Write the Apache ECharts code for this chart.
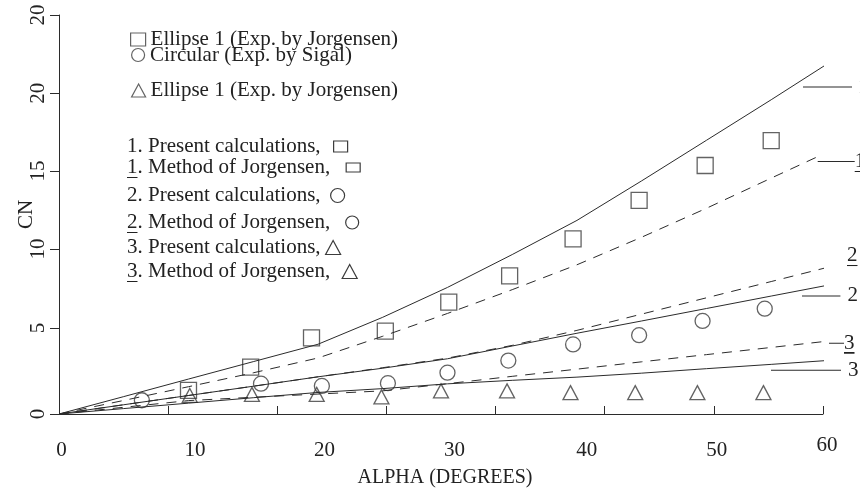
<!DOCTYPE html>
<html>
<head>
<meta charset="utf-8">
<script src="https://cdn.jsdelivr.net/npm/echarts@6/dist/echarts.min.js"></script>
<style>
  html, body { margin: 0; padding: 0; background: #ffffff; }
  #chart { width: 860px; height: 493px; }
</style>
</head>
<body>
<div id="chart"></div>
<script>
// ---- Measured normal-force coefficient (angle of attack in degrees, CN) ----
const squareAlpha = [10, 14.8, 19.5, 25.2, 30.1, 34.8, 39.7, 44.8, 49.9, 55.0];
const squareCN    = [1.48, 2.94, 4.77, 5.19, 7.01, 8.65, 10.97, 13.39, 15.57, 17.13];

const circleAlpha = [6.4, 15.6, 20.3, 25.4, 30.0, 34.7, 39.7, 44.8, 49.7, 54.5];
const circleCN    = [0.86, 1.90, 1.76, 1.93, 2.59, 3.35, 4.36, 4.94, 5.83, 6.60];

const triangleAlpha = [10.1, 14.9, 19.9, 24.9, 29.5, 34.6, 39.5, 44.5, 49.3, 54.4];
const triangleCN    = [1.16, 1.23, 1.23, 1.07, 1.45, 1.45, 1.34, 1.34, 1.34, 1.34];

// ---- Computed curves ----
const present1Alpha = [0, 5, 10, 15, 20, 25, 30, 35, 40, 45, 50, 55, 59.8];
const present1CN    = [0, 1.09, 2.19, 3.28, 4.37, 6.06, 7.93, 9.99, 12.13, 14.61, 17.15, 19.69, 22.18];

const jorgensen1Alpha = [0, 5, 10, 15, 20, 25, 30, 35, 40, 45, 50, 55, 58.9];
const jorgensen1CN    = [0, 0.85, 1.71, 2.58, 3.51, 4.87, 6.30, 7.79, 9.35, 11.08, 12.89, 14.78, 16.24];

const present2Alpha = [0, 5, 10, 15, 20, 25, 30, 35, 40, 45, 50, 55, 59.5];
const present2CN    = [0, 0.58, 1.16, 1.74, 2.33, 2.87, 3.46, 4.26, 5.06, 5.83, 6.61, 7.39, 8.09];

const jorgensen2Alpha = [0, 5, 10, 15, 20, 25, 30, 35, 40, 45, 50, 55, 59.8];
const jorgensen2CN    = [0, 0.58, 1.16, 1.74, 2.33, 2.90, 3.50, 4.30, 5.24, 6.26, 7.28, 8.30, 9.28];

const present3Alpha = [0, 5, 10, 15, 20, 25, 30, 35, 40, 45, 50, 55, 59.3];
const present3CN    = [0, 0.34, 0.68, 1.02, 1.35, 1.59, 1.89, 2.11, 2.31, 2.56, 2.84, 3.11, 3.35];

const jorgensen3Alpha = [0, 5, 10, 15, 20, 25, 30, 35, 40, 45, 50, 55, 59.3];
const jorgensen3CN    = [0, 0.42, 0.84, 1.05, 1.25, 1.45, 1.90, 2.36, 2.81, 3.27, 3.72, 4.17, 4.56];

// ---- Axis tick labels ----
const xTickLabels = ['0', '10', '20', '30', '40', '50', '60'];
const yTickLabels = ['0', '5', '10', '15', '20', '20'];

// ---- Series names ----
const expNames = [
  'Ellipse 1 (Exp. by Jorgensen)',
  'Circular (Exp. by Sigal)',
  'Ellipse 1 (Exp. by Jorgensen)\u200b'
];
const calcNames = [
  '1. Present calculations,',
  '1. Method of Jorgensen,',
  '2. Present calculations,',
  '2. Method of Jorgensen,',
  '3. Present calculations,',
  '3. Method of Jorgensen,'
];
const curveNumbers = ['1', '1', '2', '2', '3', '3'];

// ---------------------------------------------------------------------------
const FONT = 'Liberation Serif';
const INK = '#222222';
const LINE = '#2b2b2b';
const hollow = { color: 'rgba(0,0,0,0)', borderColor: '#3c3c3c', borderWidth: 1.3 };

// thin rule along the bottom of a text box: marks the Jorgensen-method curves
const underlineFill = new echarts.graphic.LinearGradient(0, 0, 0, 1, [
  { offset: 0, color: 'rgba(0,0,0,0)' },
  { offset: 0.94, color: 'rgba(0,0,0,0)' },
  { offset: 0.94, color: INK },
  { offset: 1, color: INK }
]);
const digitStyle = { fontFamily: FONT, fontSize: 21, color: INK };
const underDigitStyle = Object.assign({}, digitStyle, { lineHeight: 24, backgroundColor: underlineFill });

const pairs = (xs, ys) => xs.map((x, i) => [x, ys[i]]);

// axis geometry: ticks/labels positioned along the axes
const X_MAX = 59;
const xTickAt = Array.from({ length: 8 }, (_, k) => k * X_MAX / 7);
const xLabelAt = [0.2, 10.5, 20.5, 30.55, 40.75, 50.8, X_MAX];
const yTickAt = [0, 5.39, 10.34, 15.22, 20.09, 25];

const labelFor = (at, labels) => (v) => {
  const i = at.findIndex(t => Math.abs(t - v) < 1e-6);
  return i < 0 ? '' : labels[i];
};

// short leader dash + curve number drawn at the end of each curve
function endTag(num, underlined, dashWidth, gap, offset) {
  const numToken = underlined ? '{u|' + num + '}' : '{t|' + num + '}';
  return {
    show: true,
    distance: 0,
    offset: offset,
    formatter: (dashWidth > 0 ? '{ln|}' : '') + numToken,
    rich: {
      ln: { width: dashWidth, height: 1, backgroundColor: LINE },
      t: Object.assign({ padding: [0, 0, 0, gap] }, digitStyle),
      u: Object.assign({ padding: [0, 0, 0, 0] }, underDigitStyle)
    }
  };
}

function calcSeries(name, xs, ys, dashed, tag) {
  return {
    type: 'line',
    name: name,
    data: pairs(xs, ys),
    symbol: 'none',
    showSymbol: false,
    clip: false,
    silent: true,
    animation: false,
    lineStyle: { color: LINE, width: 1, type: dashed ? [10, 8] : 'solid' },
    endLabel: tag
  };
}

function expSeries(name, xs, ys, symbol, size) {
  return {
    type: 'scatter',
    name: name,
    data: pairs(xs, ys),
    symbol: symbol,
    symbolSize: size,
    silent: true,
    animation: false,
    itemStyle: hollow
  };
}

function legendRow(name, icon, left, top, w, h, align, gap, underlined) {
  return {
    data: [name],
    icon: icon,
    left: left,
    top: top,
    itemWidth: w,
    itemHeight: h,
    align: align,
    padding: 0,
    selectedMode: false,
    formatter: (n) => underlined
      ? '{u|' + n.charAt(0) + '}{r|' + n.slice(1) + '}'
      : '{r|' + n + '}',
    textStyle: {
      fontFamily: FONT, fontSize: 21, color: INK,
      padding: [0, gap, 0, 0],
      rich: { u: underDigitStyle, r: digitStyle }
    },
    itemStyle: { color: 'rgba(0,0,0,0)', borderColor: '#3c3c3c', borderWidth: 1.2 }
  };
}

const option = {
  backgroundColor: '#ffffff',
  animation: false,
  grid: { left: 59, top: 15, width: 764, height: 401.5, containLabel: false },
  legend: [
    legendRow(expNames[0], 'rect', 130, 29, 15, 13, 'left', 0, false),
    legendRow(expNames[1], 'circle', 131, 44.5, 14, 13, 'left', 0, false),
    legendRow(expNames[2], 'triangle', 131, 80, 14, 13, 'left', 0, false),
    legendRow(calcNames[0], 'rect', 127, 136, 14, 11, 'right', 8, false),
    legendRow(calcNames[1], 'rect', 127, 157, 14, 9, 'right', 11, true),
    legendRow(calcNames[2], 'circle', 127, 185, 14, 14, 'right', 5, false),
    legendRow(calcNames[3], 'circle', 127, 212, 14, 13, 'right', 10, true),
    legendRow(calcNames[4], 'triangle', 127, 237, 15, 14, 'right', 0, false),
    legendRow(calcNames[5], 'triangle', 127, 261, 15, 14, 'right', 7, true)
  ],
  xAxis: {
    type: 'value',
    min: 0,
    max: X_MAX,
    axisLine: { show: true, lineStyle: { color: LINE, width: 1 } },
    axisTick: { show: true, inside: true, length: 8, customValues: xTickAt, lineStyle: { color: LINE } },
    axisLabel: {
      customValues: xLabelAt,
      margin: 26,
      alignMinLabel: 'center',
      alignMaxLabel: 'center',
      fontFamily: FONT,
      fontSize: 21,
      color: INK,
      formatter: (v) => {
        const s = labelFor(xLabelAt, xTickLabels)(v);
        return v === X_MAX ? '{last|' + s + '}' : s;
      },
      rich: { last: { fontFamily: FONT, fontSize: 21, color: INK, padding: [0, 0, 0, 8], lineHeight: 11 } }
    },
    splitLine: { show: false },
    name: 'ALPHA (DEGREES)',
    nameLocation: 'middle',
    nameGap: 54,
    nameMoveOverlap: false,
    nameTextStyle: { fontFamily: FONT, fontSize: 20, color: INK, padding: [0, 0, 0, 8] }
  },
  yAxis: {
    type: 'value',
    min: 0,
    max: 25,
    axisLine: { show: true, lineStyle: { color: LINE, width: 1 } },
    axisTick: { show: true, inside: false, length: 9, customValues: yTickAt, lineStyle: { color: LINE } },
    axisLabel: {
      customValues: yTickAt,
      rotate: 90,
      margin: 10,
      fontFamily: FONT,
      fontSize: 21,
      color: INK,
      formatter: labelFor(yTickAt, yTickLabels)
    },
    splitLine: { show: false },
    name: 'CN',
    nameLocation: 'middle',
    nameRotate: 90,
    nameGap: 22,
    nameMoveOverlap: false,
    nameTextStyle: { fontFamily: FONT, fontSize: 21, color: INK }
  },
  series: [
    expSeries(expNames[0], squareAlpha, squareCN, 'rect', 16),
    expSeries(expNames[1], circleAlpha, circleCN, 'circle', 15),
    expSeries(expNames[2], triangleAlpha, triangleCN, 'triangle', [15, 14]),
    calcSeries(calcNames[0], present1Alpha, present1CN, false, endTag(curveNumbers[0], false, 49, 6, [-21, 21])),
    calcSeries(calcNames[1], jorgensen1Alpha, jorgensen1CN, true, endTag(curveNumbers[1], true, 37, 2, [-4, 6.7])),
    calcSeries(calcNames[2], present2Alpha, present2CN, false, endTag(curveNumbers[2], false, 38.4, 7, [-22, 10])),
    calcSeries(calcNames[3], jorgensen2Alpha, jorgensen2CN, true, endTag(curveNumbers[3], true, 0, 0, [23, -12.7])),
    calcSeries(calcNames[4], present3Alpha, present3CN, false, endTag(curveNumbers[4], false, 70, 7, [-53, 9.6])),
    calcSeries(calcNames[5], jorgensen3Alpha, jorgensen3CN, true, endTag(curveNumbers[5], true, 15, 6, [5, 1.7]))
  ]
};

const chart = echarts.init(document.getElementById('chart'), null, { renderer: 'canvas', devicePixelRatio: 1 });
chart.setOption(option);
</script>
</body>
</html>
